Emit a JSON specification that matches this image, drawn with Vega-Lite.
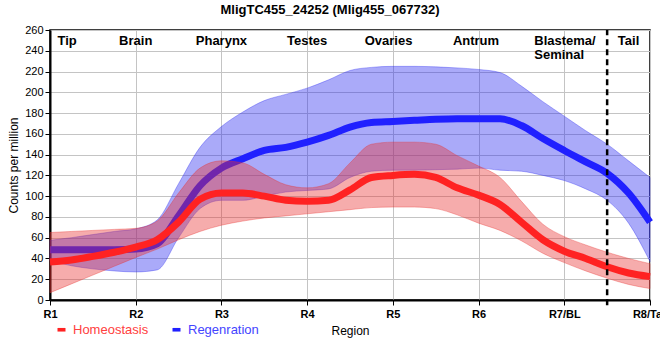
{
  "$schema": "https://vega.github.io/schema/vega-lite/v6.json",
  "autosize": "none",
  "width": 600,
  "height": 270,
  "padding": {"left": 50, "top": 30, "right": 10, "bottom": 60},
  "background": "white",
  "title": {"text": "MligTC455_24252 (Mlig455_067732)", "fontSize": 13, "fontWeight": "bold", "font": "Liberation Sans", "color": "black", "dx": -20, "offset": 7},
  "config": {
    "font": "Liberation Sans",
    "view": {"stroke": "black", "strokeWidth": 1.5},
    "axis": {"gridColor": "#c4c4c4", "gridWidth": 1, "domainColor": "black", "domainWidth": 2, "tickColor": "black", "tickSize": 5, "labelColor": "black", "titleColor": "black", "labelFont": "Liberation Sans", "titleFont": "Liberation Sans"}
  },
  "datasets": {
    "bands": [
      {"g": "Homeostasis", "x": 1, "m": 36.5, "lo": 7, "hi": 65},
      {"g": "Homeostasis", "x": 1.25, "m": 38.5, "lo": 15.5, "hi": 66},
      {"g": "Homeostasis", "x": 1.5, "m": 42, "lo": 24, "hi": 67},
      {"g": "Homeostasis", "x": 1.75, "m": 46, "lo": 32.5, "hi": 68},
      {"g": "Homeostasis", "x": 2, "m": 51, "lo": 41, "hi": 69},
      {"g": "Homeostasis", "x": 2.25, "m": 58, "lo": 49, "hi": 76},
      {"g": "Homeostasis", "x": 2.5, "m": 75, "lo": 58, "hi": 103},
      {"g": "Homeostasis", "x": 2.75, "m": 97, "lo": 66, "hi": 127},
      {"g": "Homeostasis", "x": 3, "m": 103, "lo": 72, "hi": 134},
      {"g": "Homeostasis", "x": 3.25, "m": 103, "lo": 76, "hi": 132},
      {"g": "Homeostasis", "x": 3.5, "m": 100, "lo": 79, "hi": 121},
      {"g": "Homeostasis", "x": 3.75, "m": 96, "lo": 81, "hi": 111},
      {"g": "Homeostasis", "x": 4, "m": 95, "lo": 83, "hi": 108},
      {"g": "Homeostasis", "x": 4.25, "m": 96, "lo": 85, "hi": 112},
      {"g": "Homeostasis", "x": 4.5, "m": 106, "lo": 87, "hi": 132},
      {"g": "Homeostasis", "x": 4.75, "m": 118, "lo": 89, "hi": 150},
      {"g": "Homeostasis", "x": 5, "m": 120, "lo": 89.5, "hi": 152},
      {"g": "Homeostasis", "x": 5.25, "m": 121, "lo": 89.5, "hi": 152},
      {"g": "Homeostasis", "x": 5.5, "m": 118, "lo": 88, "hi": 150},
      {"g": "Homeostasis", "x": 5.75, "m": 108, "lo": 82, "hi": 139},
      {"g": "Homeostasis", "x": 6, "m": 101, "lo": 74, "hi": 129},
      {"g": "Homeostasis", "x": 6.25, "m": 92, "lo": 67, "hi": 118},
      {"g": "Homeostasis", "x": 6.5, "m": 75, "lo": 57, "hi": 95},
      {"g": "Homeostasis", "x": 6.75, "m": 58, "lo": 45, "hi": 73},
      {"g": "Homeostasis", "x": 7, "m": 47, "lo": 36, "hi": 61},
      {"g": "Homeostasis", "x": 7.25, "m": 40, "lo": 28, "hi": 53},
      {"g": "Homeostasis", "x": 7.5, "m": 32, "lo": 21, "hi": 46},
      {"g": "Homeostasis", "x": 7.75, "m": 26, "lo": 15, "hi": 40},
      {"g": "Homeostasis", "x": 8, "m": 22.5, "lo": 11, "hi": 35},
      {"g": "Regenration", "x": 1, "m": 48.5, "lo": 38, "hi": 57.5},
      {"g": "Regenration", "x": 1.25, "m": 48.5, "lo": 33, "hi": 60},
      {"g": "Regenration", "x": 1.5, "m": 48.5, "lo": 30, "hi": 63},
      {"g": "Regenration", "x": 1.75, "m": 48.5, "lo": 28, "hi": 66},
      {"g": "Regenration", "x": 2, "m": 49, "lo": 27, "hi": 68.5},
      {"g": "Regenration", "x": 2.25, "m": 54, "lo": 29, "hi": 77},
      {"g": "Regenration", "x": 2.5, "m": 81, "lo": 60, "hi": 112},
      {"g": "Regenration", "x": 2.75, "m": 110, "lo": 88, "hi": 147},
      {"g": "Regenration", "x": 3, "m": 127, "lo": 96, "hi": 167},
      {"g": "Regenration", "x": 3.25, "m": 136, "lo": 96, "hi": 181},
      {"g": "Regenration", "x": 3.5, "m": 144, "lo": 100, "hi": 192},
      {"g": "Regenration", "x": 3.75, "m": 147, "lo": 104, "hi": 198},
      {"g": "Regenration", "x": 4, "m": 152, "lo": 105.5, "hi": 204},
      {"g": "Regenration", "x": 4.25, "m": 158.5, "lo": 107, "hi": 212},
      {"g": "Regenration", "x": 4.5, "m": 166.5, "lo": 118, "hi": 221},
      {"g": "Regenration", "x": 4.75, "m": 171, "lo": 124, "hi": 224},
      {"g": "Regenration", "x": 5, "m": 172, "lo": 125, "hi": 225},
      {"g": "Regenration", "x": 5.25, "m": 173, "lo": 125, "hi": 225},
      {"g": "Regenration", "x": 5.5, "m": 174, "lo": 125.5, "hi": 224.5},
      {"g": "Regenration", "x": 5.75, "m": 174.5, "lo": 126, "hi": 223.5},
      {"g": "Regenration", "x": 6, "m": 174.5, "lo": 127, "hi": 222},
      {"g": "Regenration", "x": 6.25, "m": 174.5, "lo": 125, "hi": 219},
      {"g": "Regenration", "x": 6.5, "m": 168, "lo": 124, "hi": 206},
      {"g": "Regenration", "x": 6.75, "m": 155.5, "lo": 120, "hi": 191},
      {"g": "Regenration", "x": 7, "m": 144, "lo": 115, "hi": 177},
      {"g": "Regenration", "x": 7.25, "m": 133, "lo": 107, "hi": 163},
      {"g": "Regenration", "x": 7.5, "m": 122, "lo": 96, "hi": 150},
      {"g": "Regenration", "x": 7.75, "m": 103, "lo": 74, "hi": 134},
      {"g": "Regenration", "x": 8, "m": 75, "lo": 37, "hi": 118}
    ],
    "labels": [
      {"x": 1.2, "y": 246, "t": "Tip", "a": "center"},
      {"x": 2, "y": 246, "t": "Brain", "a": "center"},
      {"x": 3, "y": 246, "t": "Pharynx", "a": "center"},
      {"x": 4, "y": 246, "t": "Testes", "a": "center"},
      {"x": 4.95, "y": 246, "t": "Ovaries", "a": "center"},
      {"x": 5.97, "y": 246, "t": "Antrum", "a": "center"},
      {"x": 6.65, "y": 246, "t": "Blastema/\nSeminal", "a": "left"},
      {"x": 7.75, "y": 246, "t": "Tail", "a": "center"}
    ],
    "divider": [{"x": 7.5, "y0": -5, "y1": 260}]
  },
  "encoding": {
    "x": {"field": "x", "type": "quantitative", "scale": {"domain": [1, 8], "nice": false, "zero": false},
      "axis": {"values": [1, 2, 3, 4, 5, 6, 7, 8], "labelExpr": "['R1','R2','R3','R4','R5','R6','R7/BL','R8/Tail'][datum.value-1]", "labelFontSize": 11, "labelFontWeight": "bold", "labelPadding": 3, "title": "Region", "titleFontSize": 12, "titleFontWeight": "normal", "titlePadding": 6, "labelFlush": false, "labelOverlap": false}},
    "y": {"field": "lo", "type": "quantitative", "scale": {"domain": [0, 260], "nice": false},
      "axis": {"values": [0, 20, 40, 60, 80, 100, 120, 140, 160, 180, 200, 220, 240, 260], "labelFontSize": 11, "labelPadding": 2, "labelOverlap": false, "labelFlush": false, "title": "Counts per million", "titleFontSize": 12, "titleFontWeight": "normal", "titlePadding": 4}}
  },
  "layer": [
    {
      "data": {"name": "bands"},
      "transform": [{"filter": "datum.g === 'Regenration'"}],
      "mark": {"type": "area", "interpolate": "monotone", "fill": "#2a2af0", "fillOpacity": 0.4, "stroke": "#2a2af0", "strokeOpacity": 0.35, "strokeWidth": 1},
      "encoding": {
        "y2": {"field": "hi"}
      }
    },
    {
      "data": {"name": "bands"},
      "transform": [{"filter": "datum.g === 'Regenration'"}],
      "mark": {"type": "line", "interpolate": "monotone", "strokeWidth": 7},
      "encoding": {
        "y": {"field": "m", "type": "quantitative"},
        "color": {"field": "g", "type": "nominal", "scale": {"domain": ["Homeostasis", "Regenration"], "range": ["#ff2222", "#2020ff"]},
          "legend": {"orient": "none", "legendX": 5, "legendY": 293, "direction": "horizontal", "title": null, "padding": 0, "labelFontSize": 13, "labelFont": "Liberation Sans", "labelOffset": 5, "columnPadding": 21, "symbolType": "M-1,-0.45H1V0.45H-1Z", "symbolSize": 64, "symbolStrokeWidth": 0, "symbolOpacity": 1,
            "encode": {
              "labels": {"update": {"fill": {"signal": "datum.value === 'Homeostasis' ? '#ff4040' : '#4444ff'"}}},
              "symbols": {"update": {"fill": {"signal": "datum.value === 'Homeostasis' ? '#ff2222' : '#2020ff'"}, "fillOpacity": {"value": 1}, "strokeWidth": {"value": 0}}}
            }}}
      }
    },
    {
      "data": {"name": "bands"},
      "transform": [{"filter": "datum.g === 'Homeostasis'"}],
      "mark": {"type": "area", "interpolate": "monotone", "fill": "#e8302f", "fillOpacity": 0.4, "stroke": "#e8302f", "strokeOpacity": 0.35, "strokeWidth": 1},
      "encoding": {
        "y2": {"field": "hi"}
      }
    },
    {
      "data": {"name": "bands"},
      "transform": [{"filter": "datum.g === 'Homeostasis'"}],
      "mark": {"type": "line", "interpolate": "monotone", "strokeWidth": 7},
      "encoding": {
        "y": {"field": "m", "type": "quantitative"},
        "color": {"field": "g", "type": "nominal"}
      }
    },
    {
      "data": {"name": "divider"},
      "mark": {"type": "rule", "color": "black", "strokeWidth": 2.5, "strokeDash": [6, 4], "clip": false},
      "encoding": {
        "y": {"field": "y0", "type": "quantitative"},
        "y2": {"field": "y1"}
      }
    },
    {
      "data": {"name": "labels"},
      "transform": [{"filter": "datum.a === 'center'"}],
      "mark": {"type": "text", "align": "center", "baseline": "alphabetic", "fontSize": 13, "fontWeight": "bold", "font": "Liberation Sans", "color": "black"},
      "encoding": {
        "y": {"field": "y", "type": "quantitative"},
        "text": {"field": "t"}
      }
    },
    {
      "data": {"name": "labels"},
      "transform": [{"filter": "datum.a === 'left'"}],
      "mark": {"type": "text", "align": "left", "baseline": "alphabetic", "fontSize": 13, "fontWeight": "bold", "font": "Liberation Sans", "color": "black", "lineBreak": "\n", "lineHeight": 14},
      "encoding": {
        "y": {"field": "y", "type": "quantitative"},
        "text": {"field": "t"}
      }
    }
  ]
}
